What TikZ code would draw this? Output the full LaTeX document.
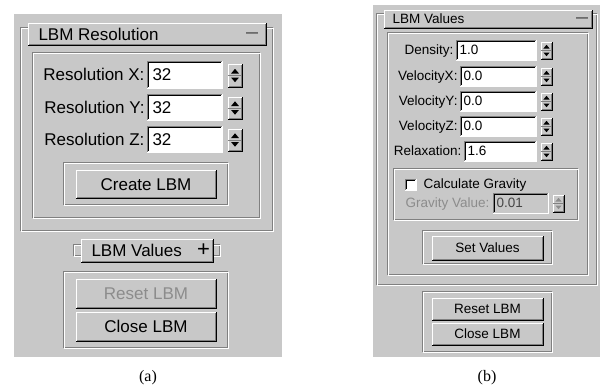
\documentclass[tikz,border=0pt]{standalone}
\usepackage{fontspec}
\newfontfamily\guifont{Liberation Sans}
\newfontfamily\capfont{Liberation Serif}
\definecolor{bg}{RGB}{200,200,200}
\definecolor{shd}{RGB}{128,128,128}
\definecolor{dis}{RGB}{140,140,140}
\definecolor{distxt}{RGB}{70,70,70}
\newcommand{\guiRaised}[4]{%
  \fill[bg] (#1,#2) rectangle (#3,#4);
  \draw[white] (#1,#4) -- (#1,#2) -- (#3,#2);
  \draw[shd] ({#1+1},{#4-1}) -- ({#3-1},{#4-1}) -- ({#3-1},{#2+1});
  \draw[black] (#1,#4) -- (#3,#4) -- (#3,#2);
}
\newcommand{\guiSunken}[5]{%
  \fill[#5] (#1,#2) rectangle (#3,#4);
  \draw[shd] (#1,#4) -- (#1,#2) -- (#3,#2);
  \draw[black] ({#1+1},{#4-1}) -- ({#1+1},{#2+1}) -- ({#3-1},{#2+1});
  \draw[white] (#1,#4) -- (#3,#4) -- (#3,#2);
}
\newcommand{\guiGroove}[4]{%
  \draw[shd] (#1,#2) rectangle ({#3-1},{#4-1});
  \draw[white] ({#1+1},{#2+1}) rectangle (#3,#4);
}
\newcommand{\guiSpin}[5]{%
  \guiRaised{#1}{#2}{#3}{#4}
  \pgfmathsetmacro{\spYm}{(#2+#4)/2}
  \pgfmathsetmacro{\spXc}{(#1+#3)/2}
  \pgfmathsetmacro{\spTw}{(#3-#1)*0.28}
  \draw[shd, line width=0.8pt] (#1,\spYm) -- (#3,\spYm);
  \fill[#5] ({\spXc-\spTw},{\spYm-2}) -- ({\spXc+\spTw},{\spYm-2}) -- (\spXc,{\spYm-2-\spTw*1.2}) -- cycle;
  \fill[#5] ({\spXc-\spTw},{\spYm+2}) -- ({\spXc+\spTw},{\spYm+2}) -- (\spXc,{\spYm+2+\spTw*1.2}) -- cycle;
}
\begin{document}
\begin{tikzpicture}[x=1pt,y=-1pt,line width=1pt,
  ta/.style={font=\guifont\fontsize{17}{20}\selectfont, inner sep=0pt, text height=12.2pt, text depth=0pt},
  tb/.style={font=\guifont\fontsize{13.5}{16}\selectfont, inner sep=0pt, text height=9.7pt, text depth=0pt},
  dashtxt/.style={font=\guifont\fontsize{12}{14}\selectfont, inner sep=0pt},
  plustxt/.style={font=\guifont\fontsize{22}{24}\selectfont, inner sep=0pt},
  captxt/.style={font=\capfont\fontsize{16}{19}\selectfont, inner sep=0pt}]
\useasboundingbox (0,0) rectangle (607,389);
\fill[white] (0,0) rectangle (607,389);

% ================= panel (a) =================
\fill[bg] (14,14) rectangle (282,357);
\guiGroove{20}{27}{273}{231}
\guiRaised{28}{23}{266}{45}
\node[ta, anchor=west] (ttlA) at (38,34) {LBM Resolution};
\node[dashtxt] (minA) at (252,35) {—};
\guiGroove{32}{52}{260}{218}
% rows
\guiSunken{147}{61}{222}{88}{white}
\guiSunken{147}{94}{222}{120}{white}
\guiSunken{147}{126}{222}{152}{white}
\guiSpin{228}{64}{242}{87}{black}
\guiSpin{228}{97}{242}{119}{black}
\guiSpin{228}{129}{242}{151}{black}
\node[ta, anchor=east] (lxA) at (145,74.5) {Resolution X:};
\node[ta, anchor=east] (lyA) at (145,107) {Resolution Y:};
\node[ta, anchor=east] (lzA) at (145,139) {Resolution Z:};
\node[ta, anchor=west] (vxA) at (152,74.5) {32};
\node[ta, anchor=west] (vyA) at (152,107) {32};
\node[ta, anchor=west] (vzA) at (152,139) {32};
% create
\guiGroove{63}{162}{228}{205}
\guiRaised{76}{170}{216}{198}
\node[ta] (createA) at (146,184) {Create LBM};
% collapsed values tab
\guiGroove{73}{244}{85}{256}
\guiGroove{208}{244}{220}{256}
\guiRaised{81}{239}{213}{262}
\node[ta, anchor=west] (valA) at (91,250.5) {LBM Values};
\node[plustxt] (plusA) at (203.5,250) {+};
% bottom buttons
\guiGroove{63}{271}{228}{348}
\guiRaised{76}{279}{216}{308}
\node[ta, dis] (resetA) at (146,293.5) {Reset LBM};
\guiRaised{76}{312}{216}{341}
\node[ta] (closeA) at (146,326.5) {Close LBM};
\node[captxt] (capA) at (148,378) {(a)};

% ================= panel (b) =================
\fill[bg] (373,5) rectangle (600,357);
\guiGroove{376}{13}{597}{285}
\guiRaised{384}{10}{592}{28}
\node[tb, anchor=west] (ttlB) at (392,19) {LBM Values};
\node[dashtxt] (minB) at (582,20) {—};
\guiGroove{387}{32}{588}{275}
% rows
\guiSunken{456}{40}{536}{60}{white}
\guiSunken{460}{66}{536}{86}{white}
\guiSunken{460}{91}{536}{111}{white}
\guiSunken{460}{116}{536}{136}{white}
\guiSunken{464}{141}{536}{161}{white}
\guiSpin{541}{42}{552}{59}{black}
\guiSpin{541}{68}{552}{85}{black}
\guiSpin{541}{93}{552}{110}{black}
\guiSpin{541}{118}{552}{135}{black}
\guiSpin{541}{143}{552}{160}{black}
\node[tb, anchor=east] (ldB) at (454,50) {Density:};
\node[tb, anchor=east] (lvxB) at (458,76) {VelocityX:};
\node[tb, anchor=east] (lvyB) at (458,101) {VelocityY:};
\node[tb, anchor=east] (lvzB) at (458,126) {VelocityZ:};
\node[tb, anchor=east] (lrB) at (462,151) {Relaxation:};
\node[tb, anchor=west] (vdB) at (459,50) {1.0};
\node[tb, anchor=west] (vvxB) at (463,76) {0.0};
\node[tb, anchor=west] (vvyB) at (463,101) {0.0};
\node[tb, anchor=west] (vvzB) at (463,126) {0.0};
\node[tb, anchor=west] (vrB) at (467,151) {1.6};
% gravity group
\guiGroove{393}{168}{578}{220}
\guiSunken{405}{179}{416}{190}{white}
\node[tb, anchor=west] (cgB) at (423,184) {Calculate Gravity};
\node[tb, anchor=west, dis] (gvB) at (405,203) {Gravity Value:};
\guiSunken{493}{193}{548}{213}{bg}
\node[tb, anchor=west, distxt] (gvvB) at (496,203) {0.01};
\guiSpin{553}{195}{564}{212}{dis}
% set values
\guiGroove{422}{230}{552}{264}
\guiRaised{432}{236}{543}{260}
\node[tb] (setB) at (487.5,248) {Set Values};
% bottom buttons
\guiGroove{422}{291}{552}{352}
\guiRaised{432}{298}{543}{320}
\node[tb] (resetB) at (487.5,309) {Reset LBM};
\guiRaised{432}{323}{543}{345}
\node[tb] (closeB) at (487.5,334) {Close LBM};
\node[captxt] (capB) at (487,378) {(b)};
\end{tikzpicture}
\end{document}
